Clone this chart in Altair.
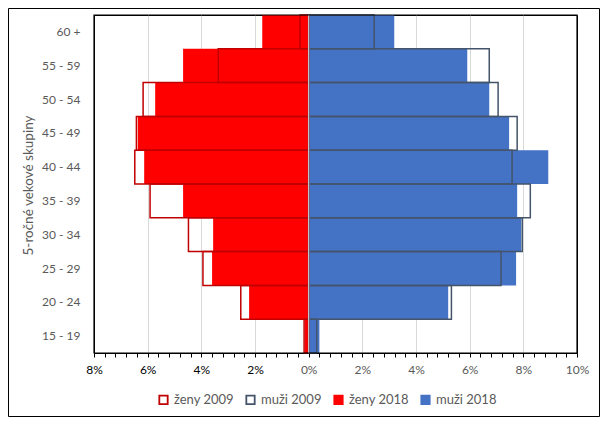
import altair as alt
import pandas as pd

categories = ["15 - 19", "20 - 24", "25 - 29", "30 - 34", "35 - 39",
              "40 - 44", "45 - 49", "50 - 54", "55 - 59", "60 +"]
zeny_2009 = [0.17, 2.53, 3.94, 4.48, 5.91, 6.48, 6.42, 6.17, 3.37, 0.32]
muzi_2009 = [0.30, 5.32, 7.17, 7.96, 8.26, 7.58, 7.77, 7.06, 6.73, 2.44]
zeny_2018 = [0.14, 2.22, 3.60, 3.56, 4.68, 6.13, 6.37, 5.72, 4.68, 1.73]
muzi_2018 = [0.40, 5.20, 7.73, 7.92, 7.77, 8.93, 7.47, 6.73, 5.91, 3.19]

series_names = ["ženy 2009", "muži 2009", "ženy 2018", "muži 2018"]
fill_colors = ["transparent", "transparent", "#FF0000", "#4472C4"]
stroke_colors = ["#C00000", "#44546A", "#FF0000", "#4472C4"]
x_ticks = [round(-8 + 0.4 * i, 1) for i in range(46)]

rows = []
for name, vals, sign in [("ženy 2009", zeny_2009, -1), ("muži 2009", muzi_2009, 1),
                         ("ženy 2018", zeny_2018, -1), ("muži 2018", muzi_2018, 1)]:
    for c, v in zip(categories, vals):
        rows.append({"age": c, "series": name, "value": sign * v,
                     "year": name.split()[1]})
df = pd.DataFrame(rows)

W, H = 483, 338
PAD = {"left": 86, "top": 7, "right": 23, "bottom": 64}

major = "abs(round(datum.value*10)) % 20 == 0"

x_axis = alt.Axis(
    values=x_ticks,
    labelExpr=f"{major} ? abs(datum.value) + '%' : ''",
    labelOverlap=False,
    labelFlush=False,
    labelBound=False,
    labelFontSize=12,
    labelColor={"condition": {"test": "datum.value < -0.01", "value": "#000000"}, "value": "#595959"},
    labelPadding=7,
    tickSize=4,
    tickColor="#000000",
    domainColor="#000000",
    grid=True,
    gridColor="#D9D9D9",
    gridOpacity={"condition": {"test": f"{major} && datum.value > -7.9 && datum.value < 9.9",
                               "value": 1}, "value": 0},
    title=None,
)
x_scale = alt.Scale(domain=[-8, 10], nice=False, zero=True)
x_enc = alt.X("value:Q", scale=x_scale, axis=x_axis, stack=None)

y_enc = alt.Y(
    "age:N",
    sort=list(reversed(categories)),
    scale=alt.Scale(paddingInner=0, paddingOuter=0),
    axis=alt.Axis(
        domain=False, ticks=False, labelPadding=14, labelFontSize=12,
        labelColor="#595959", title="5-ročné vekové skupiny",
        titleFontSize=13.5, titleColor="#595959", titleFontWeight="normal",
        titleX=-66, titleY=170, titleBaseline="middle", titleAlign="center",
    ),
)
leg = alt.Legend(
    title=None, orient="none", legendX=63, legendY=378, direction="horizontal",
    symbolType="square", symbolSize=70, symbolStrokeWidth=1.8,
    labelFontSize=13, labelColor="#595959", columnPadding=8, labelOffset=4,
    padding=0,
)
fill_enc = alt.Fill("series:N", scale=alt.Scale(domain=series_names, range=fill_colors), legend=leg)
stroke_enc = alt.Stroke("series:N", scale=alt.Scale(domain=series_names, range=stroke_colors), legend=leg)

base = alt.Chart(df)

bars2018 = base.transform_filter("datum.year == '2018'").mark_bar(strokeWidth=0).encode(
    x=x_enc, y=y_enc, fill=fill_enc, stroke=stroke_enc
)
bars2009 = base.transform_filter("datum.year == '2009'").mark_bar(strokeWidth=1.5).encode(
    x=x_enc, y=y_enc, fill=fill_enc, stroke=stroke_enc
)

zero_rule = alt.Chart(pd.DataFrame({"value": [0]})).mark_rule(color="#D9D9D9", strokeWidth=1).encode(
    x=x_enc
)

frame_df = pd.DataFrame({"a": [0]})
border = alt.Chart(frame_df).mark_rect(
    fill="transparent", stroke="#000000", strokeWidth=1
).encode(
    x=alt.value(-PAD["left"] + 0.5), x2=alt.value(W + PAD["right"] - 0.5),
    y=alt.value(-PAD["top"] + 0.5), y2=alt.value(H + PAD["bottom"] - 0.5),
)
plot_frame = alt.Chart(frame_df).mark_rect(
    fill="transparent", stroke="#000000", strokeWidth=1.2
).encode(
    x=alt.value(0), x2=alt.value(W), y=alt.value(0), y2=alt.value(H),
)

chart = alt.layer(border, bars2018, bars2009, zero_rule, plot_frame).properties(
    width=W, height=H,
    autosize=alt.AutoSizeParams(type="none"),
    padding=PAD,
).configure(font="Lato").configure_view(
    stroke="#000000", strokeWidth=1
)

chart.save("out.html", embed_options={"renderer": "svg", "actions": False})
